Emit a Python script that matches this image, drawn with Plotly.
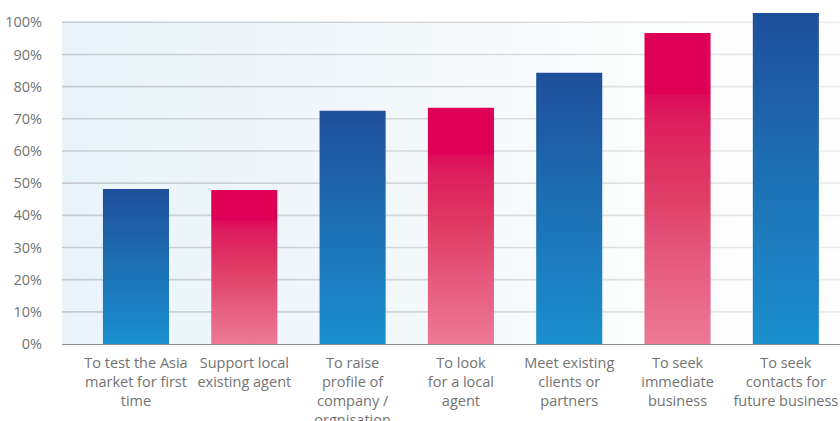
import plotly.graph_objects as go

categories = [
    "To test the Asia<br>market for first<br>time",
    "Support local<br>existing agent",
    "To raise<br>profile of<br>company /<br>orgnisation",
    "To look<br>for a local<br>agent",
    "Meet existing<br>clients or<br>partners",
    "To seek<br>immediate<br>business",
    "To seek<br>contacts for<br>future business",
]
values = [48.2, 47.9, 72.5, 73.4, 84.3, 96.7, 102.9]
series = ["blue", "pink", "blue", "pink", "blue", "pink", "blue"]
tick_values = [0, 10, 20, 30, 40, 50, 60, 70, 80, 90, 100]
tick_labels = [f"{v}%" for v in tick_values]

scales = {
    "blue": [[0, "#1B8FCF"], [0.5, "#1D70B4"], [1, "#1F4F9B"]],
    "pink": [[0, "#EC7996"], [0.25, "#E65C81"], [0.46, "#E04068"], [0.72, "#DD1E5E"],
             [0.8, "#DD0C5A"], [0.805, "#DE0057"], [1, "#DE0057"]],
}

BAR_W = 0.61
X_MIN, X_MAX = -0.683, 6.5
FONT = "Open Sans"

fig = go.Figure()

# plot-area background gradient (0..100%)
fig.add_trace(go.Scatter(
    x=[X_MIN, X_MIN, X_MAX, X_MAX, X_MIN], y=[0, 100, 100, 0, 0],
    fill="toself", mode="lines", line=dict(width=0), hoverinfo="skip",
    fillgradient=dict(type="horizontal", start=X_MIN, stop=X_MAX,
                      colorscale=[[0, "#E9F4FA"], [0.45, "#F3F8FB"], [0.75, "#FCFDFD"], [1, "#FDFDFD"]]),
    showlegend=False,
))

# gridlines fading to the right
for t in tick_values[1:]:
    h = 0.25
    fig.add_trace(go.Scatter(
        x=[X_MIN, X_MIN, X_MAX, X_MAX, X_MIN], y=[t - h, t + h, t + h, t - h, t - h],
        fill="toself", mode="lines", line=dict(width=0), hoverinfo="skip",
        fillgradient=dict(type="horizontal", start=X_MIN, stop=X_MAX,
                          colorscale=[[0, "#C6CBCF"], [0.55, "#D6D9DB"], [1, "#EDEDED"]]),
        showlegend=False,
    ))

# bars with vertical gradient
for i, (v, s) in enumerate(zip(values, series)):
    x0, x1 = i - BAR_W / 2, i + BAR_W / 2
    fig.add_trace(go.Scatter(
        x=[x0, x0, x1, x1, x0], y=[0, v, v, 0, 0],
        fill="toself", mode="lines", line=dict(width=0),
        fillgradient=dict(type="vertical", start=0, stop=v, colorscale=scales[s]),
        hovertemplate=f"{v}%<extra></extra>", showlegend=False,
    ))

fig.update_layout(
    width=840, height=421,
    margin=dict(l=62, r=0, t=3, b=77),
    paper_bgcolor="white", plot_bgcolor="white",
    font=dict(family=FONT, size=14.5, color="#737373"),
    xaxis=dict(range=[X_MIN, X_MAX], tickmode="array",
               tickvals=list(range(len(categories))), ticktext=categories,
               showgrid=False, zeroline=False, showline=False, automargin=False,
               ticks="outside", ticklen=6, tickcolor="rgba(0,0,0,0)",
               tickfont=dict(family=FONT, size=14.5, color="#737373"), fixedrange=True),
    yaxis=dict(range=[0, 106], tickmode="array", tickvals=tick_values, ticktext=tick_labels,
               showgrid=False, zeroline=True, zerolinecolor="#8E8E8E", zerolinewidth=2,
               showline=False, automargin=False, ticks="outside", ticklen=16,
               tickcolor="rgba(0,0,0,0)",
               tickfont=dict(family=FONT, size=14.5, color="#737373"), fixedrange=True),
)

fig.write_html(
    "out.html",
    config={"displayModeBar": False},
    post_script="document.body.style.margin='0';document.body.style.overflow='hidden';",
)
